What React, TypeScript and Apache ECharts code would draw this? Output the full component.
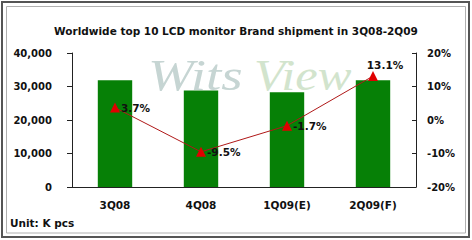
import React, { useEffect, useRef } from "react";
import * as echarts from "echarts";

const categories = ["3Q08", "4Q08", "1Q09(E)", "2Q09(F)"];
const shipments = [31900, 28800, 28300, 31900];
const growth = [3.7, -9.5, -1.7, 13.1];
const leftTicks = { min: 0, max: 40000, interval: 10000 };
const rightTicks = { min: -20, max: 20, interval: 10 };
const titleText = "Worldwide top 10 LCD monitor Brand shipment in 3Q08-2Q09";
const unitText = "Unit: K pcs";
const watermarkParts = ["Wits", "View"];

export default function App() {
  const ref = useRef<HTMLDivElement>(null);
  useEffect(() => {
    if (!ref.current) return;
    const chart = echarts.init(ref.current, null, { renderer: "svg" });
    const font = "DejaVu Sans";
    const wmStyle = (text: string, fill: string) => ({
      text,
      fontFamily: "Liberation Serif",
      fontStyle: "italic",
      fontSize: 44,
      fill,
      shadowColor: "rgba(140,160,150,0.45)",
      shadowBlur: 2,
      shadowOffsetX: 1,
      shadowOffsetY: 1,
    });
    chart.setOption({
      animation: false,
      backgroundColor: "#ffffff",
      title: {
        text: titleText,
        left: "center",
        top: 20,
        textStyle: { fontFamily: font, fontSize: 10.5, fontWeight: "bold", color: "#111" },
      },
      grid: { left: 72, right: 56, top: 53, bottom: 53 },
      graphic: [
        {
          type: "rect",
          z: -10,
          shape: { x: 2, y: 2, width: 467, height: 235 },
          style: { fill: "none", stroke: "#555", lineWidth: 2 },
          silent: true,
        },
        {
          type: "rect",
          z: -10,
          shape: { x: 6.5, y: 6.5, width: 459, height: 226.5 },
          style: { fill: "none", stroke: "#b0b0b0", lineWidth: 1 },
          silent: true,
        },
        {
          type: "text",
          z: -5,
          x: 148,
          y: 53,
          scaleX: 1.25,
          style: wmStyle(watermarkParts[0], "#c6d5d3"),
          silent: true,
        },
        {
          type: "text",
          z: -5,
          x: 254,
          y: 53,
          scaleX: 1.15,
          style: wmStyle(watermarkParts[1], "#d2e4cd"),
          silent: true,
        },
        {
          type: "text",
          x: 10,
          y: 217,
          style: { text: unitText, font: "bold 10.5px 'DejaVu Sans'", fill: "#111" },
        },
      ],
      xAxis: {
        type: "category",
        data: categories,
        axisLine: { lineStyle: { color: "#222", width: 1 } },
        axisTick: { inside: true, length: 4, lineStyle: { color: "#222" } },
        axisLabel: { fontFamily: font, fontSize: 10.5, fontWeight: "bold", color: "#111", margin: 12 },
      },
      yAxis: [
        {
          type: "value",
          ...leftTicks,
          splitLine: { show: false },
          axisLine: { show: true, lineStyle: { color: "#222" } },
          axisTick: { show: true, length: 5, lineStyle: { color: "#222" } },
          axisLabel: {
            fontFamily: font,
            fontSize: 10,
            fontWeight: "bold",
            color: "#111",
            margin: 20,
            formatter: (v: number) => v.toLocaleString("en-US"),
          },
        },
        {
          type: "value",
          ...rightTicks,
          position: "right",
          splitLine: { show: false },
          axisLine: { show: true, lineStyle: { color: "#222" } },
          axisTick: { show: true, inside: true, length: 4, lineStyle: { color: "#222" } },
          axisLabel: {
            fontFamily: font,
            fontSize: 10,
            fontWeight: "bold",
            color: "#111",
            margin: 11,
            formatter: "{value}%",
          },
        },
      ],
      series: [
        {
          type: "bar",
          data: shipments,
          yAxisIndex: 0,
          barCategoryGap: "60%",
          itemStyle: { color: "#068006" },
          z: 2,
        },
        {
          type: "line",
          yAxisIndex: 1,
          z: 3,
          data: growth.map((v, i) =>
            i === growth.length - 1
              ? { value: v, label: { position: "top", offset: [12, 0] } }
              : v
          ),
          symbol: "triangle",
          symbolSize: 10,
          lineStyle: { color: "#b01818", width: 1 },
          itemStyle: { color: "#e00000" },
          label: {
            show: true,
            position: "right",
            distance: 1,
            fontFamily: font,
            fontSize: 10.5,
            fontWeight: "bold",
            color: "#111",
            formatter: (p: any) => `${p.value}%`,
          },
        },
      ],
    });
    return () => chart.dispose();
  }, []);
  return (
    <div
      ref={ref}
      style={{ position: "fixed", left: 0, top: 0, width: 472, height: 240 }}
    />
  );
}
